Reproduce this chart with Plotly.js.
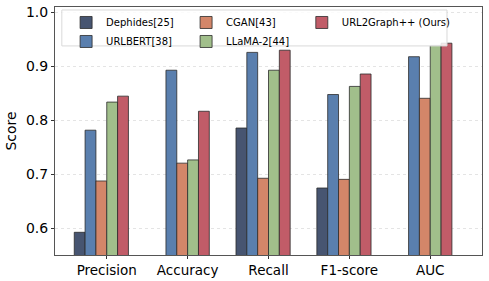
<!DOCTYPE html>
<html>
<head>
<meta charset="utf-8">
<script src="https://cdn.plot.ly/plotly-3.0.1.min.js"></script>
<style>html,body{margin:0;padding:0;background:#fff;}#chart{width:489px;height:281px;}</style>
</head>
<body>
<div id="chart"></div>
<script>
const categories = ["Precision", "Accuracy", "Recall", "F1-score", "AUC"];
const seriesNames = ["Dephides[25]", "URLBERT[38]", "CGAN[43]", "LLaMA-2[44]", "URL2Graph++ (Ours)"];
const dephides = [0.593, null, 0.786, 0.675, null];
const urlbert = [0.782, 0.893, 0.926, 0.848, 0.918];
const cgan = [0.688, 0.721, 0.693, 0.691, 0.841];
const llama = [0.834, 0.727, 0.893, 0.863, 0.939];
const ours = [0.845, 0.817, 0.930, 0.886, 0.943];
const yTicks = [0.6, 0.7, 0.8, 0.9, 1.0];

const allSeries = [dephides, urlbert, cgan, llama, ours];
const colors = ["#475571", "#5a7fae", "#d38669", "#a1bf8b", "#c15c68"];
const legendIds = ["legend", "legend", "legend2", "legend2", "legend3"];
const w = 0.134;
const idx = categories.map((c, i) => i);

const traces = allSeries.map((vals, s) => ({
  type: "bar",
  name: seriesNames[s],
  x: idx,
  y: vals,
  width: w,
  offset: (s - 3) * w,
  legend: legendIds[s],
  marker: {color: colors[s], line: {color: "#2b2b2b", width: 0.8}},
  hoverinfo: "skip"
}));

function legendCol(x) {
  return {
    orientation: "v",
    x: x, y: 0.996, xanchor: "left", yanchor: "top",
    bgcolor: "rgba(0,0,0,0)", borderwidth: 0,
    font: {size: 10},
    traceorder: "normal",
    itemwidth: 30,
    tracegroupgap: 0
  };
}

const layout = {
  width: 489, height: 281,
  margin: {l: 55, r: 7, t: 7, b: 26},
  paper_bgcolor: "#fff", plot_bgcolor: "#fff",
  barmode: "overlay",
  showlegend: true,
  font: {family: "DejaVu Sans, sans-serif", color: "#000"},
  xaxis: {
    range: [-0.64, 4.64],
    tickvals: idx, ticktext: categories,
    tickfont: {size: 13.5},
    ticks: "outside", ticklen: 3, tickcolor: "#333",
    showline: true, linecolor: "#555", linewidth: 1, mirror: true,
    showgrid: false, zeroline: false
  },
  yaxis: {
    range: [0.551, 1.01],
    tickvals: yTicks, ticktext: yTicks.map(v => v.toFixed(1)),
    tickfont: {size: 14},
    ticks: "outside", ticklen: 3, tickcolor: "#333",
    showline: true, linecolor: "#555", linewidth: 1, mirror: true,
    showgrid: true, gridcolor: "#dddddd", griddash: "dot", gridwidth: 0.8,
    zeroline: false,
    title: {text: "Score", font: {size: 14}, standoff: 6}
  },
  legend: legendCol(0.026),
  legend2: legendCol(0.307),
  legend3: legendCol(0.578),
  shapes: [{
    type: "rect", xref: "paper", yref: "paper",
    x0: 0.016, x1: 0.918, y0: 0.843, y1: 0.988,
    fillcolor: "rgba(255,255,255,0.85)", line: {color: "#d9d9d9", width: 1},
    layer: "above"
  }]
};

Plotly.newPlot("chart", traces, layout, {staticPlot: true, displayModeBar: false});
</script>
</body>
</html>
